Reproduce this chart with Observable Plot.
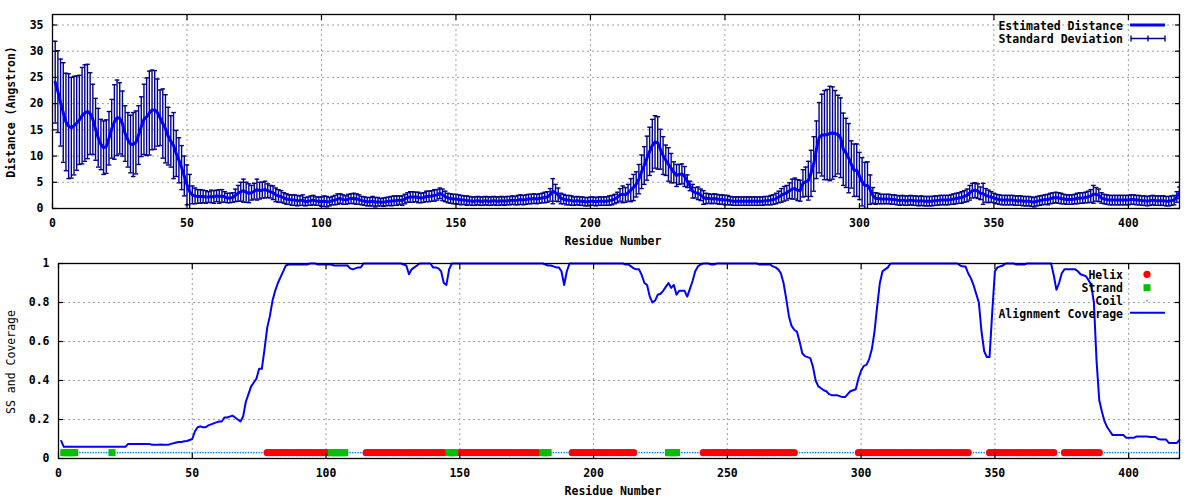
<!DOCTYPE html>
<html><head><meta charset="utf-8">
<script src="https://cdn.jsdelivr.net/npm/d3@7"></script>
<script src="https://cdn.jsdelivr.net/npm/@observablehq/plot@0.6"></script>
<style>body{margin:0;background:#fff}#chart svg{display:block}</style>
</head><body><div id="chart"></div>
<script>
// ---------- data ----------
const residueCount = 419;
const distance = [
24.1,22.3,20.2,18.3,16.5,15.7,15.4,15.8,16.3,16.9,
17.7,18.2,18.5,18.1,17.0,15.1,13.5,12.2,11.6,11.8,
13.4,15.2,16.5,17.3,17.2,16.2,14.3,13.1,12.3,12.2,
12.6,14.0,15.6,17.0,17.5,18.2,18.8,18.8,18.3,17.3,
16.2,15.2,13.8,12.8,12.0,10.5,9.2,7.8,6.2,4.5,
3.2,2.6,2.4,2.3,2.3,2.3,2.2,2.2,2.3,2.2,
2.4,2.3,2.4,2.2,2.0,2.0,2.1,2.5,2.9,3.2,
3.4,3.1,2.9,3.0,3.3,3.6,3.4,3.5,3.6,3.4,
3.2,3.0,2.6,2.4,2.3,2.0,1.8,1.7,1.6,1.6,
1.5,1.5,1.6,1.3,1.4,1.5,1.6,1.4,1.4,1.3,
1.4,1.3,1.3,1.5,1.6,1.8,1.9,1.7,1.6,1.8,
1.9,1.9,1.8,1.7,1.5,1.4,1.3,1.3,1.4,1.2,
1.3,1.2,1.2,1.3,1.4,1.4,1.5,1.5,1.6,1.5,
1.8,2.1,2.2,2.2,2.2,2.1,2.0,2.1,2.3,2.3,
2.4,2.5,2.6,2.9,2.6,2.3,2.0,1.9,1.8,1.8,
1.7,1.6,1.6,1.5,1.5,1.4,1.4,1.5,1.4,1.4,
1.5,1.4,1.4,1.5,1.4,1.4,1.5,1.4,1.5,1.5,
1.6,1.5,1.6,1.7,1.6,1.7,1.8,1.8,1.9,1.8,
1.9,2.0,2.1,2.2,2.6,3.3,3.0,2.6,1.9,1.8,
1.6,1.6,1.5,1.4,1.5,1.4,1.4,1.3,1.3,1.4,
1.4,1.3,1.4,1.4,1.4,1.4,1.5,1.6,1.8,2.1,
2.6,2.7,2.6,3.0,3.5,4.0,4.6,5.6,7.0,8.2,
9.6,10.9,12.0,12.7,12.5,11.3,10.1,9.2,8.4,7.7,
6.9,6.3,6.5,6.6,6.1,5.2,4.3,3.3,3.0,2.9,
2.6,2.1,1.9,1.9,1.8,1.9,1.8,1.7,1.7,1.6,
1.6,1.5,1.4,1.4,1.4,1.4,1.4,1.4,1.4,1.4,
1.4,1.4,1.4,1.4,1.5,1.5,1.6,1.7,1.9,2.2,
2.5,2.8,3.0,3.4,3.7,3.8,3.5,3.4,4.8,5.1,
5.3,6.7,8.5,11.2,13.5,14.0,14.0,14.1,14.3,14.4,
14.3,14.1,13.5,11.3,10.6,9.6,8.4,7.3,7.3,6.2,
5.1,4.4,4.4,3.6,2.5,1.9,1.9,1.8,1.8,1.8,
1.8,1.7,1.7,1.6,1.5,1.6,1.5,1.5,1.6,1.5,
1.5,1.4,1.5,1.4,1.4,1.4,1.4,1.5,1.5,1.6,
1.6,1.6,1.6,1.7,1.8,1.9,2.0,2.1,2.3,2.5,
3.0,3.4,3.5,3.3,2.9,2.8,2.5,2.3,2.2,2.0,
1.8,1.7,1.6,1.6,1.6,1.6,1.6,1.5,1.5,1.5,
1.4,1.4,1.4,1.3,1.2,1.4,1.5,1.6,1.7,1.7,
1.9,2.0,2.1,2.0,1.9,1.8,1.7,1.7,1.7,1.8,
1.9,2.0,2.0,2.1,2.2,2.4,2.7,2.7,2.5,2.0,
1.8,1.7,1.6,1.6,1.6,1.6,1.6,1.6,1.6,1.6,
1.7,1.7,1.6,1.6,1.5,1.5,1.4,1.5,1.6,1.5,
1.5,1.5,1.5,1.4,1.4,1.5,1.6,2.2,3.0
];
const stdDev = [
7.8,7.8,8.3,9.5,9.3,10.0,9.6,9.4,9.0,8.5,
9.2,9.2,9.0,7.8,6.7,5.9,5.6,4.8,5.1,5.1,
5.1,5.6,7.1,7.2,6.8,6.2,5.3,5.2,5.5,6.1,
6.0,5.6,5.7,6.7,7.4,8.0,7.6,7.5,6.4,5.3,
6.6,6.5,5.5,4.9,6.3,4.4,4.3,4.2,3.8,3.8,
3.3,1.7,1.5,1.3,1.3,1.2,1.2,1.0,1.2,1.2,
1.1,1.3,1.2,1.0,0.9,0.9,0.9,1.2,1.5,1.8,
2.2,1.9,1.8,1.4,1.5,2.0,1.6,1.5,1.6,1.3,
1.2,1.3,1.3,1.2,1.1,1.0,1.0,0.9,1.0,1.0,
1.0,0.9,1.0,0.8,0.8,0.9,0.9,0.8,0.8,0.9,
1.0,1.0,0.8,0.8,0.9,1.0,0.9,0.9,0.8,0.9,
0.9,1.0,1.0,0.9,0.8,0.8,0.8,0.8,0.9,0.9,
0.8,0.7,0.8,0.8,0.8,0.9,0.9,0.9,0.8,0.9,
0.9,0.9,1.0,1.0,0.9,1.0,0.9,0.9,1.0,1.0,
1.0,1.1,1.0,1.0,1.1,1.0,0.9,0.9,0.9,0.9,
0.9,0.9,0.8,0.9,0.8,0.8,0.8,0.8,0.8,0.8,
0.8,0.8,0.8,0.8,0.8,0.8,0.8,0.8,0.8,0.8,
0.8,0.8,0.9,0.9,0.9,0.9,0.9,0.9,0.9,0.9,
0.9,0.9,1.0,1.0,1.2,2.4,1.6,1.3,1.0,0.9,
0.9,0.9,0.9,0.8,0.8,0.8,0.8,0.8,0.8,0.8,
0.8,0.8,0.8,0.8,0.8,0.8,0.9,0.9,0.9,1.0,
1.2,1.6,1.4,1.6,2.2,2.5,2.4,2.8,3.2,3.6,
4.2,4.6,5.0,5.0,5.0,3.8,3.6,2.9,3.2,2.8,
2.0,2.1,1.9,1.9,1.9,1.2,0.9,1.3,1.0,1.2,
1.1,1.3,1.0,0.9,0.9,0.9,0.9,0.9,0.9,0.9,
0.9,0.8,0.8,0.8,0.8,0.8,0.8,0.8,0.8,0.8,
0.8,0.8,0.8,0.8,0.8,0.8,0.9,0.9,1.0,1.1,
1.3,1.4,1.4,1.5,1.9,2.0,2.0,2.0,2.6,2.8,
3.7,4.4,5.2,5.5,6.7,7.8,8.5,8.6,9.0,8.8,
8.2,7.5,7.6,6.9,6.6,6.6,4.5,5.0,5.0,4.5,
4.6,4.4,4.5,2.8,1.5,1.1,1.0,0.9,0.9,0.9,
0.9,0.9,0.9,0.9,0.9,0.9,0.9,0.9,0.9,0.9,
0.9,0.9,0.9,0.9,0.9,0.9,0.9,0.9,0.9,0.9,
0.9,0.9,0.9,0.9,1.0,1.0,1.0,1.1,1.1,1.2,
1.4,1.4,1.4,1.4,1.2,2.0,1.3,1.2,1.0,0.9,
0.9,0.9,0.9,0.9,0.9,0.9,0.9,0.9,0.9,0.9,
0.9,0.9,0.9,0.9,0.9,0.9,0.9,0.9,0.9,1.0,
1.0,1.0,1.0,1.0,1.0,0.9,0.9,0.9,0.9,0.9,
1.0,1.0,1.0,1.0,1.1,1.2,1.7,1.3,1.2,1.0,
0.9,0.9,0.9,0.9,0.9,0.9,0.9,0.9,0.9,0.9,
0.9,0.9,0.9,0.9,0.9,0.9,0.9,0.9,0.9,0.9,
0.9,0.9,0.9,0.9,0.9,0.9,0.9,1.0,1.1
];
const coverage = [
0.09,0.06,0.06,0.06,0.06,0.06,0.06,0.06,0.06,0.06,
0.06,0.06,0.06,0.06,0.06,0.06,0.06,0.06,0.06,0.06,
0.06,0.06,0.06,0.06,0.06,0.075,0.075,0.075,0.075,0.075,
0.075,0.075,0.075,0.075,0.07,0.07,0.07,0.072,0.07,0.07,
0.07,0.075,0.078,0.082,0.085,0.085,0.088,0.09,0.095,0.1,
0.14,0.16,0.165,0.16,0.16,0.17,0.175,0.18,0.185,0.19,
0.19,0.21,0.21,0.215,0.22,0.21,0.2,0.19,0.215,0.29,
0.33,0.37,0.39,0.41,0.46,0.46,0.56,0.67,0.73,0.81,
0.86,0.9,0.93,0.96,0.99,0.995,0.995,0.995,0.995,0.995,
0.995,0.995,0.995,1,1,1,0.995,0.995,0.995,0.995,
0.995,0.995,0.99,0.99,0.99,0.99,0.99,0.99,0.975,0.97,
0.975,0.98,0.98,1,1,1,1,1,1,1,
1,1,1,1,1,1,1,1,0.995,0.99,
0.945,0.97,0.98,0.99,1,1,1,1,1,0.98,
0.98,0.975,0.96,0.9,0.89,0.97,1,1,1,1,
1,1,1,1,1,1,1,1,1,1,
1,1,1,1,1,1,1,1,1,1,
1,1,1,1,1,1,1,1,1,1,
1,0.995,0.99,0.99,0.985,0.98,0.98,0.96,0.89,0.96,
1,1,1,1,1,1,1,1,1,1,
1,1,1,1,1,1,1,1,1,1,
1,0.995,0.995,0.985,0.975,0.97,0.97,0.94,0.9,0.89,
0.83,0.8,0.81,0.84,0.845,0.86,0.88,0.9,0.875,0.89,
0.84,0.86,0.86,0.86,0.83,0.87,0.91,0.96,0.985,0.995,
1,1,1,0.995,0.995,1,1,1,1,1,
1,1,1,1,1,1,1,1,1,1,
1,0.995,0.995,0.995,0.995,0.995,0.985,0.98,0.97,0.95,
0.9,0.82,0.73,0.68,0.66,0.65,0.6,0.54,0.525,0.52,
0.515,0.47,0.4,0.37,0.36,0.35,0.345,0.33,0.325,0.325,
0.325,0.32,0.315,0.315,0.33,0.345,0.35,0.355,0.41,0.45,
0.475,0.48,0.51,0.56,0.65,0.78,0.9,0.96,0.97,0.98,
1,1,1,1,1,1,1,1,1,1,
1,1,1,1,1,1,1,1,1,1,
1,1,1,1,1,1,0.99,0.985,0.985,0.95,
0.925,0.89,0.845,0.8,0.65,0.55,0.52,0.52,0.75,0.96,
0.98,0.985,0.99,1,1,1,1,0.995,0.995,0.995,
0.995,1,1,1,1,1,1,1,1,1,
1,0.94,0.865,0.9,0.95,0.97,0.97,0.97,0.97,0.97,
0.96,0.945,0.94,0.935,0.915,0.89,0.8,0.5,0.3,0.24,
0.19,0.16,0.14,0.12,0.12,0.12,0.12,0.12,0.107,0.107,
0.107,0.107,0.113,0.113,0.113,0.113,0.113,0.11,0.11,0.11,
0.1,0.097,0.097,0.097,0.08,0.08,0.08,0.08,0.095
];
// secondary structure segments (residue ranges); everything else is coil
const ssStart = [2, 20, 78, 102, 115, 146, 150, 181, 192, 228, 241, 299, 348, 376];
const ssEnd   = [6, 20, 101, 107, 144, 148, 179, 183, 215, 231, 275, 340, 372, 389];
const ssType  = ["Strand","Strand","Helix","Strand","Helix","Strand","Helix","Strand","Helix","Strand","Helix","Helix","Helix","Helix"];
const ssLevel = 0.03;
const xTicks = [0, 50, 100, 150, 200, 250, 300, 350, 400];
const distTicks = [0, 5, 10, 15, 20, 25, 30, 35];
const covTicks = [0, 0.2, 0.4, 0.6, 0.8, 1];
const covTickLabels = ["0", "0.2", "0.4", "0.6", "0.8", "1"];
const xMax = 419, distMax = 37, covMax = 1;

// ---------- tables ----------
const distRows = distance.map((d, i) => ({r: i + 1, d, s: stdDev[i]}));
const covRows = coverage.map((c, i) => ({r: i + 1, c}));
const ssRows = covRows.map(({r}) => {
  const k = ssStart.findIndex((s, j) => r >= s && r <= ssEnd[j]);
  return {r, type: k < 0 ? "Coil" : ssType[k]};
});

// ---------- styles ----------
const FONT = "'DejaVu Sans Mono', 'Liberation Mono', monospace";
const style = {fontFamily: FONT, fontSize: "11.5px", fontWeight: "bold", background: "#fff", color: "#000", overflow: "visible"};
const gridStyle = {stroke: "#a0a0a0", strokeOpacity: 1, strokeDasharray: "2,3", strokeWidth: 1};
const ERR = "#00008b", LINE = "#0000ff";

function axes(yTicks, yFormat) {
  return [
    Plot.axisX({ticks: xTicks, tickSize: 0, tickPadding: 10, label: null}),
    Plot.axisX({ticks: xTicks, tickSize: -5, fill: "none", strokeWidth: 1.2}),
    Plot.axisX({anchor: "top", ticks: xTicks, tickSize: -5, fill: "none", strokeWidth: 1.2}),
    Plot.axisY({ticks: yTicks, tickSize: 0, tickPadding: 9, label: null, tickFormat: yFormat}),
    Plot.axisY({ticks: yTicks, tickSize: -5, fill: "none", strokeWidth: 1.2}),
    Plot.axisY({anchor: "right", ticks: yTicks, tickSize: -5, fill: "none", strokeWidth: 1.2}),
    Plot.frame({stroke: "#000", strokeWidth: 1.3})
  ];
}

const topChart = Plot.plot({
  width: 1200, height: 250,
  marginLeft: 52, marginRight: 21, marginTop: 14, marginBottom: 42,
  style,
  x: {domain: [0, xMax]},
  y: {domain: [0, distMax]},
  marks: [
    Plot.gridX(xTicks, gridStyle),
    Plot.gridY(distTicks, gridStyle),
    Plot.ruleX(distRows, {x: "r", y1: d => d.d - d.s, y2: d => d.d + d.s, stroke: ERR, strokeWidth: 1.4, clip: true}),
    Plot.link(distRows, {x1: d => d.r - 0.85, x2: d => d.r + 0.85, y1: d => d.d + d.s, y2: d => d.d + d.s, stroke: ERR, strokeWidth: 1.4, clip: true}),
    Plot.link(distRows, {x1: d => d.r - 0.85, x2: d => d.r + 0.85, y1: d => d.d - d.s, y2: d => d.d - d.s, stroke: ERR, strokeWidth: 1.4, clip: true}),
    Plot.line(distRows, {x: "r", y: "d", stroke: LINE, strokeWidth: 3, clip: true}),
    ...axes(distTicks, d => String(d))
  ]
});

const botChart = Plot.plot({
  width: 1200, height: 250,
  marginLeft: 58, marginRight: 21, marginTop: 13, marginBottom: 42,
  style,
  x: {domain: [0, xMax]},
  y: {domain: [0, covMax]},
  marks: [
    Plot.gridX(xTicks, gridStyle),
    Plot.gridY(covTicks, gridStyle),
    Plot.dot(ssRows.filter(d => d.type === "Coil"), {x: "r", y: ssLevel, r: 0.8, fill: "#0080ff", stroke: "none"}),
    Plot.dot(ssRows.filter(d => d.type === "Helix"), {x: "r", y: ssLevel, r: 3.6, fill: "#ff0000", stroke: "none"}),
    Plot.dot(ssRows.filter(d => d.type === "Strand"), {x: "r", y: ssLevel, symbol: "square", r: 4, fill: "#00c000", stroke: "none"}),
    Plot.line(covRows, {x: "r", y: "c", stroke: LINE, strokeWidth: 2}),
    ...axes(covTicks, d => covTickLabels[covTicks.indexOf(d)])
  ]
});

// ---------- titles and legends ----------
function addText(svg, txt, x, y, anchor, opts = {}) {
  const t = svg.append("text").attr("x", x).attr("y", y).attr("text-anchor", anchor)
    .attr("font-family", FONT).attr("font-size", "11.5px").attr("font-weight", opts.weight || "bold").attr("fill", "#000").text(txt);
  if (opts.rotate) t.attr("transform", `rotate(-90,${x},${y})`);
  return t;
}
const sT = d3.select(topChart);
addText(sT, "Residue Number", 613, 245, "middle");
addText(sT, "Distance (Angstron)", 15, 112, "middle", {rotate: true});
addText(sT, "Estimated Distance", 1123, 30, "end");
addText(sT, "Standard Deviation", 1123, 42.7, "end");
sT.append("line").attr("x1", 1130).attr("x2", 1165).attr("y1", 25).attr("y2", 25).attr("stroke", LINE).attr("stroke-width", 3);
const eb = sT.append("g").attr("stroke", ERR).attr("stroke-width", 1.4);
eb.append("line").attr("x1", 1131).attr("x2", 1165).attr("y1", 38.5).attr("y2", 38.5);
[1131, 1148, 1165].forEach(x => eb.append("line").attr("x1", x).attr("x2", x).attr("y1", 35.5).attr("y2", 41.5));

const sB = d3.select(botChart);
addText(sB, "Residue Number", 613, 245, "middle");
addText(sB, "SS and Coverage", 15, 112, "middle", {rotate: true, weight: "normal"});
addText(sB, "Helix", 1123, 29, "end");
addText(sB, "Strand", 1123, 41.7, "end");
addText(sB, "Coil", 1123, 55, "end");
addText(sB, "Alignment Coverage", 1123, 67.5, "end");
sB.append("circle").attr("cx", 1147).attr("cy", 24.3).attr("r", 3.6).attr("fill", "#ff0000");
sB.append("rect").attr("x", 1143.5).attr("y", 34.2).attr("width", 7).attr("height", 7).attr("fill", "#00c000");
sB.append("circle").attr("cx", 1147).attr("cy", 50.7).attr("r", 0.8).attr("fill", "#0080ff");
sB.append("line").attr("x1", 1130).attr("x2", 1165).attr("y1", 62.7).attr("y2", 62.7).attr("stroke", LINE).attr("stroke-width", 2);

const root = document.getElementById("chart");
root.appendChild(topChart);
root.appendChild(botChart);
</script>
</body></html>
